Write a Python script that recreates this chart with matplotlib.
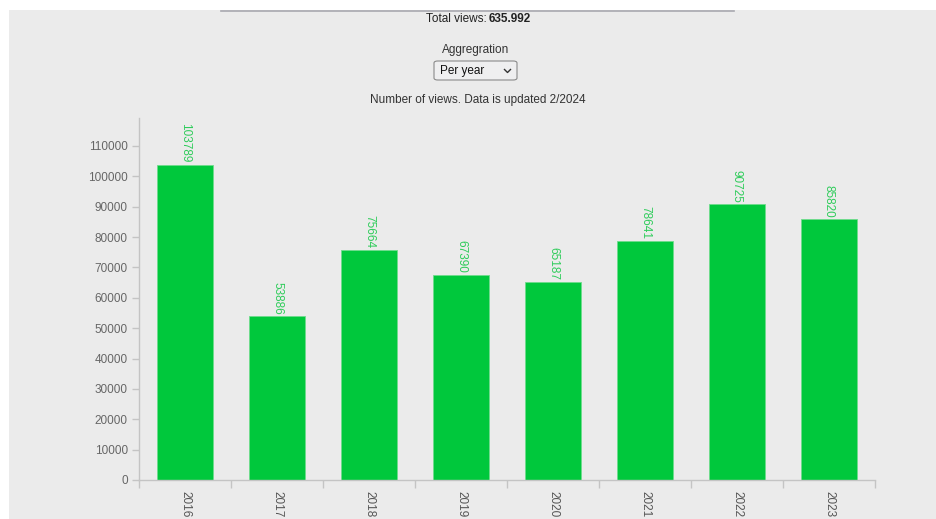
import matplotlib
matplotlib.use("Agg")
import matplotlib.pyplot as plt
from matplotlib.patches import FancyBboxPatch, Rectangle
from matplotlib.lines import Line2D

plt.rcParams['font.family'] = ['Liberation Sans', 'DejaVu Sans']

years = ['2016', '2017', '2018', '2019', '2020', '2021', '2022', '2023']
views = [103789, 53886, 75664, 67390, 65187, 78641, 90725, 85820]
total_views = '635.992'

W, H = 937, 519
bg = '#ebebeb'
bar_col = '#00c83c'
label_col = '#2ecc5a'
grey_txt = '#666666'
axis_col = '#c4c4c4'
fs = 8.5


def fx(x):
    return x / W


def fy(y):
    return 1 - y / H


fig = plt.figure(figsize=(W / 100, H / 100), dpi=100)
fig.patch.set_facecolor(bg)

# white strips of the page around the grey panel
fig.add_artist(Rectangle((0, fy(10)), 1, 10 / H, transform=fig.transFigure,
                         facecolor='white', edgecolor='none'))
fig.add_artist(Rectangle((0, 0), 9 / W, 1, transform=fig.transFigure,
                         facecolor='white', edgecolor='none'))
fig.add_artist(Line2D([fx(221), fx(734)], [fy(10.5), fy(10.5)], transform=fig.transFigure,
                      color='#a8a8b0', lw=1.2))

# header texts
fig.text(fx(487), fy(19.5), 'Total views:', ha='right', va='center', fontsize=fs, color='#222222')
fig.text(fx(489), fy(19.5), total_views, ha='left', va='center', fontsize=fs,
         fontweight='bold', color='#222222')
fig.text(fx(476), fy(50.5), 'Aggregration', ha='center', va='center', fontsize=fs, color='#333333')
box = FancyBboxPatch((fx(434), fy(80)), 83 / W, 19 / H, boxstyle='round,pad=0,rounding_size=0.004',
                     transform=fig.transFigure, facecolor='#efeff0', edgecolor='#8a8a8a', lw=0.8)
fig.add_artist(box)
fig.text(fx(440), fy(71), 'Per year', ha='left', va='center', fontsize=fs, color='#111111')
fig.add_artist(Line2D([fx(504.5), fx(507.5), fx(510.5)], [fy(69.5), fy(72.5), fy(69.5)],
                      transform=fig.transFigure, color='#333333', lw=1.0))
fig.text(fx(478), fy(100), 'Number of views. Data is updated 2/2024', ha='center', va='center',
         fontsize=fs, color='#333333')

# chart
ax = fig.add_axes([fx(139), fy(480), (875 - 139) / W, (480 - 117.5) / H])
ax.set_facecolor(bg)
x = list(range(len(years)))
bars = ax.bar(x, views, width=0.6, color=bar_col, edgecolor='#6fdc8c', linewidth=0.6)
ax.set_xlim(-0.5, len(years) - 0.5)
ax.set_ylim(0, max(views) * 1.15)

for xi, v in zip(x, views):
    ax.annotate(str(v), (xi, v), xytext=(0, 1.5), textcoords='offset points',
                rotation=-90, ha='center', va='bottom', fontsize=fs, color=label_col)

ax.set_yticks(range(0, 110001, 10000))
ax.set_yticklabels([str(t) for t in range(0, 110001, 10000)])
ax.set_xticks(x)
ax.set_xticklabels(years, rotation=-90, va='top', ha='center')
ax.set_xticks([i - 0.5 for i in range(len(years) + 1)], minor=True)

ax.tick_params(axis='y', length=5, width=1, color=axis_col, labelcolor=grey_txt, labelsize=fs, pad=3)
ax.tick_params(axis='x', which='major', length=0, labelcolor='#555555', labelsize=fs, pad=8)
ax.tick_params(axis='x', which='minor', length=6, width=1, color=axis_col)

for side in ['top', 'right']:
    ax.spines[side].set_visible(False)
for side in ['left', 'bottom']:
    ax.spines[side].set_color(axis_col)
    ax.spines[side].set_linewidth(1)

fig.savefig('out.png', dpi=100, facecolor=bg)
